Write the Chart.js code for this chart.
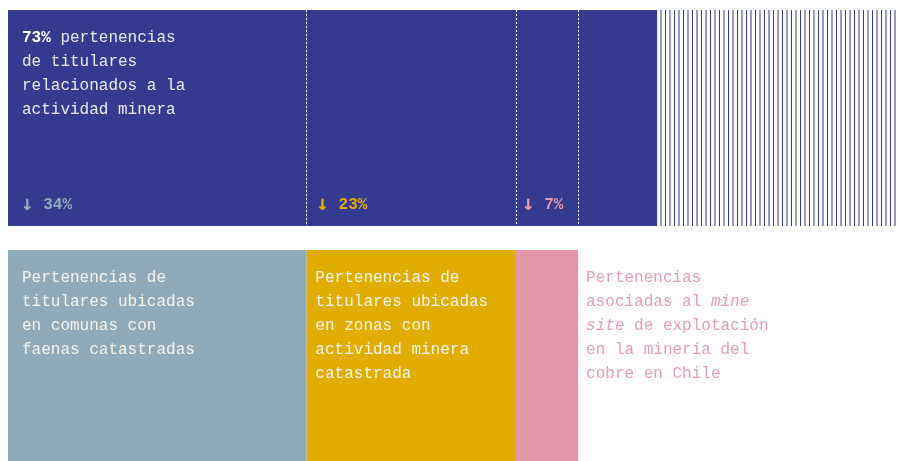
<!DOCTYPE html>
<html>
<head>
<meta charset="utf-8">
<script src="https://cdn.jsdelivr.net/npm/chart.js@4/dist/chart.umd.min.js"></script>
<style>
  html, body { margin: 0; padding: 0; background: #fff; overflow: hidden; }
  body { width: 898px; height: 461px; position: relative; }
  #wrap { position: absolute; left: 8px; top: -2px; width: 888px; height: 480px; }
</style>
</head>
<body>
<div id="wrap"><canvas id="pulseChart" aria-label="Pertenencias de titulares relacionados a la actividad minera"></canvas></div>
<script>
'use strict';

// rows of the chart
const rows = ['Total pertenencias', 'Por ubicación'];

// share of each segment (% of all pertenencias)
const segments = ['Comunas con faenas', 'Zonas con actividad minera', 'Mine site', 'Otras relacionadas', 'No relacionadas'];
const shares = [33.6, 23.6, 7.0, 8.9, 26.9];

// printed labels
const totalLabel = '73%';
const dropLabels = ['34%', '23%', '7%'];

const NAVY = '#343a8f';
const segColors = ['#8eaabb', '#e0ad00', '#e197a9'];
const FONT = '"Liberation Mono", "DejaVu Sans Mono", monospace';
const ARROW_FONT = '"DejaVu Sans Mono", monospace';

// thin vertical stripes for the part that is not mining related
function stripePattern() {
  const c = document.createElement('canvas');
  c.width = 9; c.height = 8;
  const g = c.getContext('2d');
  g.fillStyle = NAVY;
  g.fillRect(0, 0, 1, 8);
  g.fillStyle = 'rgba(52,58,143,0.5)';
  g.fillRect(4, 0, 2, 8);
  return g.createPattern(c, 'repeat');
}

const datasets = segments.map((name, i) => ({
  label: name,
  data: [shares[i], i < 3 ? shares[i] : null],
  backgroundColor: [i < 4 ? NAVY : stripePattern(), i < 3 ? segColors[i] : 'transparent'],
  borderWidth: 0,
  borderSkipped: false,
  categoryPercentage: 1,
  barPercentage: 0.9
}));

// draw a line made of parts with their own style
function drawRich(ctx, parts, x, y, color) {
  let cx = x;
  parts.forEach(p => {
    const style = p.s === 'b' ? 'bold ' : p.s === 'i' ? 'italic ' : '';
    ctx.font = style + (p.size || 16) + 'px ' + (p.f || FONT);
    ctx.fillStyle = p.c || color;
    ctx.fillText(p.t, cx, y);
    cx += ctx.measureText(p.t).width;
  });
}

const topText = [
  [{ t: totalLabel, s: 'b', c: '#ffffff' }, { t: ' pertenencias' }],
  [{ t: 'de titulares' }],
  [{ t: 'relacionados a la' }],
  [{ t: 'actividad minera' }]
];

const bottomTexts = [
  [[{ t: 'Pertenencias de' }], [{ t: 'titulares ubicadas' }], [{ t: 'en comunas con' }], [{ t: 'faenas catastradas' }]],
  [[{ t: 'Pertenencias de' }], [{ t: 'titulares ubicadas' }], [{ t: 'en zonas con' }], [{ t: 'actividad minera' }], [{ t: 'catastrada' }]],
  [[{ t: 'Pertenencias' }], [{ t: 'asociadas al ' }, { t: 'mine', s: 'i' }], [{ t: 'site', s: 'i' }, { t: ' de explotación' }], [{ t: 'en la minería del' }], [{ t: 'cobre en Chile' }]]
];

const textPlugin = {
  id: 'textPlugin',
  afterDatasetsDraw(chart) {
    const ctx = chart.ctx;
    const bars = chart.data.datasets.map((d, i) => chart.getDatasetMeta(i).data);
    const box = el => ({ left: el.base, right: el.x, top: el.y - el.height / 2, bottom: el.y + el.height / 2 });
    ctx.save();
    ctx.textBaseline = 'middle';
    ctx.textAlign = 'left';

    // dotted separators inside the navy band
    const first = box(bars[0][0]);
    ctx.strokeStyle = 'rgba(255,255,255,0.95)';
    ctx.lineWidth = 1;
    ctx.setLineDash([2, 2]);
    [1, 2, 3].forEach(i => {
      const x = Math.round(box(bars[i][0]).left) + 0.5;
      ctx.beginPath();
      ctx.moveTo(x, first.top);
      ctx.lineTo(x, first.bottom);
      ctx.stroke();
    });
    ctx.setLineDash([]);

    // heading text
    topText.forEach((line, k) => drawRich(ctx, line, first.left + 14, first.top + 28 + k * 24, '#ecebf3'));

    // drop labels
    const dropPad = [13, 10, 6];
    dropLabels.forEach((lab, i) => {
      const b = box(bars[i][0]);
      drawRich(ctx, [{ t: '↓', s: 'b', f: ARROW_FONT, size: 21 }, { t: ' ' + lab, s: 'b' }], b.left + dropPad[i], b.bottom - 21, segColors[i]);
    });

    // bottom row descriptions
    bottomTexts.forEach((lines, i) => {
      const b = box(bars[i][1]);
      const x = i === 0 ? b.left + 14 : i === 1 ? b.left + 9 : b.right + 8;
      const color = i === 2 ? '#e89db2' : '#f7f4ec';
      lines.forEach((line, k) => drawRich(ctx, line, x, b.top + 28 + k * 24, color));
    });
    ctx.restore();
  }
};

new Chart(document.getElementById('pulseChart'), {
  type: 'bar',
  data: { labels: rows, datasets },
  options: {
    indexAxis: 'y',
    responsive: true,
    maintainAspectRatio: false,
    animation: false,
    layout: { padding: 0 },
    plugins: { legend: { display: false }, tooltip: { enabled: false } },
    scales: {
      x: { stacked: true, min: 0, max: 100, display: false },
      y: { stacked: true, display: false }
    }
  },
  plugins: [textPlugin]
});
</script>
</body>
</html>
